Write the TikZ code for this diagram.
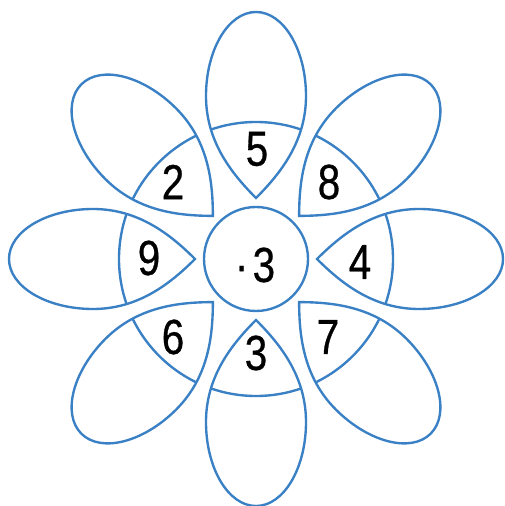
\documentclass[tikz,border=0pt]{standalone}
\usepackage{fontspec}
\setmainfont{Liberation Sans}[FakeStretch=0.82,FakeBold=0.6]
\usepackage{xcolor}
\definecolor{FlowerBlue}{HTML}{3A80C4}

% one petal, axis pointing up, tip towards the centre
\newcommand\petalpath{(0,61) .. controls (25,86) and (50,118) .. (50,163)
  arc[start angle=0,end angle=180,x radius=50,y radius=84]
  .. controls (-50,118) and (-25,86) .. (0,61) -- cycle}

\begin{document}
\begin{tikzpicture}[x=0.02cm,y=0.02cm,
    petal line/.style={draw=FlowerBlue,line width=1.35pt},
    every node/.style={font=\fontsize{28}{30}\selectfont,inner sep=0pt}]
  \useasboundingbox (-256,-247) rectangle (248,259);
  % petals with the inner arc
  \foreach \a in {0,45,...,315}{
    \begin{scope}[rotate=\a]
      \draw[petal line] \petalpath;
      \clip \petalpath;
      \draw[petal line] (0,0) circle[radius=137];
    \end{scope}
  }
  % centre
  \draw[petal line] (0,0) circle[radius=52];
  \node (hub) at (-1,-6) {·\kern2.5pt3};
  % numbers in the petals
  \foreach \px/\py/\nm/\v in {1/110/top/5,73/77/topright/8,104/-3/right/4,72/-78/botright/7,
      0/-94/bottom/3,-83/-78/botleft/6,-107/1/left/9,-83/77/topleft/2}{
    \node (\nm) at (\px,\py) {\v};
  }
\end{tikzpicture}
\end{document}
